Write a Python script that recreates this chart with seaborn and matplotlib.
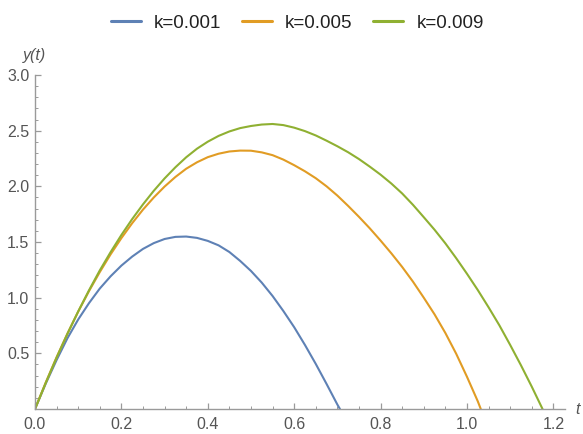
import numpy as np
import pandas as pd
import matplotlib
matplotlib.use("Agg")
import matplotlib.pyplot as plt
from matplotlib.ticker import MultipleLocator, FixedLocator
from matplotlib.lines import Line2D
import seaborn as sns

labels = ["k=0.001", "k=0.005", "k=0.009"]
colors = ["#5E81B5", "#E19C24", "#8FB032"]

t_blue = [0, 0.025, 0.05, 0.075, 0.10, 0.125, 0.15, 0.175, 0.20, 0.225, 0.25, 0.275, 0.30,
          0.325, 0.35, 0.375, 0.40, 0.425, 0.45, 0.475, 0.50, 0.525, 0.55, 0.575, 0.60,
          0.625, 0.65, 0.675, 0.70, 0.706]
y_blue = [0, 0.229, 0.44, 0.635, 0.804, 0.951, 1.082, 1.192, 1.288, 1.369, 1.438, 1.49, 1.527,
          1.546, 1.549, 1.537, 1.51, 1.47, 1.41, 1.33, 1.24, 1.135, 1.015, 0.88, 0.735,
          0.575, 0.405, 0.225, 0.04, 0.0]

t_orange = [0, 0.025, 0.05, 0.075, 0.10, 0.125, 0.15, 0.175, 0.20, 0.225, 0.25, 0.275, 0.30,
            0.325, 0.35, 0.375, 0.40, 0.425, 0.45, 0.475, 0.50, 0.525, 0.55, 0.575, 0.60,
            0.625, 0.65, 0.675, 0.70, 0.725, 0.75, 0.775, 0.80, 0.825, 0.85, 0.875, 0.90,
            0.925, 0.95, 0.975, 1.00, 1.025, 1.032]
y_orange = [0, 0.239, 0.465, 0.676, 0.875, 1.059, 1.23, 1.389, 1.535, 1.669, 1.791, 1.90, 1.998,
            2.084, 2.158, 2.216, 2.262, 2.293, 2.313, 2.321, 2.32, 2.305, 2.28, 2.24, 2.19,
            2.135, 2.073, 2.0, 1.917, 1.824, 1.726, 1.623, 1.513, 1.398, 1.276, 1.144, 1.0,
            0.85, 0.683, 0.497, 0.29, 0.07, 0.0]

t_green = [0, 0.025, 0.05, 0.075, 0.10, 0.125, 0.15, 0.175, 0.20, 0.225, 0.25, 0.275, 0.30,
           0.325, 0.35, 0.375, 0.40, 0.425, 0.45, 0.475, 0.50, 0.525, 0.55, 0.575, 0.60,
           0.625, 0.65, 0.675, 0.70, 0.725, 0.75, 0.775, 0.80, 0.825, 0.85, 0.875, 0.90,
           0.925, 0.95, 0.975, 1.00, 1.025, 1.05, 1.075, 1.10, 1.125, 1.15, 1.175]
y_green = [0, 0.236, 0.462, 0.675, 0.876, 1.066, 1.245, 1.409, 1.563, 1.706, 1.838, 1.96, 2.071,
           2.171, 2.261, 2.338, 2.401, 2.453, 2.493, 2.523, 2.542, 2.555, 2.56, 2.55, 2.527,
           2.496, 2.457, 2.41, 2.36, 2.306, 2.245, 2.177, 2.105, 2.025, 1.936, 1.834, 1.723,
           1.61, 1.488, 1.355, 1.215, 1.069, 0.914, 0.752, 0.576, 0.393, 0.201, 0.0]

x_ticks = [0.0, 0.2, 0.4, 0.6, 0.8, 1.0, 1.2]
y_ticks = [0.5, 1.0, 1.5, 2.0, 2.5, 3.0]

frames = []
for lab, tt, yy in zip(labels, [t_blue, t_orange, t_green], [y_blue, y_orange, y_green]):
    frames.append(pd.DataFrame({"t": tt, "y": yy, "k": lab}))
df = pd.concat(frames, ignore_index=True)

sns.set_style("white")
plt.rcParams["font.family"] = ["Liberation Sans", "DejaVu Sans"]

fig = plt.figure(figsize=(5.83, 4.34), dpi=100)
ax = fig.add_axes([35 / 583, 1 - 409 / 434, (565 - 35) / 583, (409 - 75) / 434])

sns.lineplot(data=df, x="t", y="y", hue="k", palette=dict(zip(labels, colors)),
             estimator=None, sort=False, linewidth=1.5, ax=ax, legend=False)
for ln in ax.lines:
    ln.set_solid_capstyle("round")
    ln.set_solid_joinstyle("round")

ax.set_xlim(0, 1.227)
ax.set_ylim(0, 3.0)
ax.set_xlabel("")
ax.set_ylabel("")

axis_col = "#9a9a9a"
for s in ["top", "right"]:
    ax.spines[s].set_visible(False)
for s in ["left", "bottom"]:
    ax.spines[s].set_color(axis_col)
    ax.spines[s].set_linewidth(1.0)

ax.xaxis.set_major_locator(FixedLocator(x_ticks))
ax.yaxis.set_major_locator(FixedLocator(y_ticks))
ax.xaxis.set_minor_locator(MultipleLocator(0.05))
ax.yaxis.set_minor_locator(MultipleLocator(0.1))
ax.set_xticklabels([f"{v:.1f}" for v in x_ticks])
ax.set_yticklabels([f"{v:.1f}" for v in y_ticks])
ax.tick_params(axis="both", which="major", direction="in", length=4.5, width=0.9,
               color=axis_col, labelcolor="#555555", labelsize=11.5, pad=4)
ax.tick_params(axis="both", which="minor", direction="in", length=2.5, width=0.7,
               color=axis_col)
ax.tick_params(axis="y", which="both", left=True)
ax.tick_params(axis="x", which="both", bottom=True)
ax.tick_params(axis="x", which="major", pad=6)

ax.text(0, 1.035, "y(t)", transform=ax.transAxes, ha="center", va="bottom",
        fontsize=11.5, color="#555555", style="italic")
ax.text(1.02, 0, "t", transform=ax.transAxes, ha="left", va="center",
        fontsize=11.5, color="#555555", style="italic")

handles = [Line2D([0], [0], color=c, lw=2.2) for c in colors]
fig.legend(handles, labels, loc="upper center", bbox_to_anchor=(0.51, 1.005),
           ncol=3, frameon=False, fontsize=13.5, handlelength=1.6,
           columnspacing=1.1, handletextpad=0.7, labelcolor="#222222")

fig.savefig("out.png", dpi=100)
